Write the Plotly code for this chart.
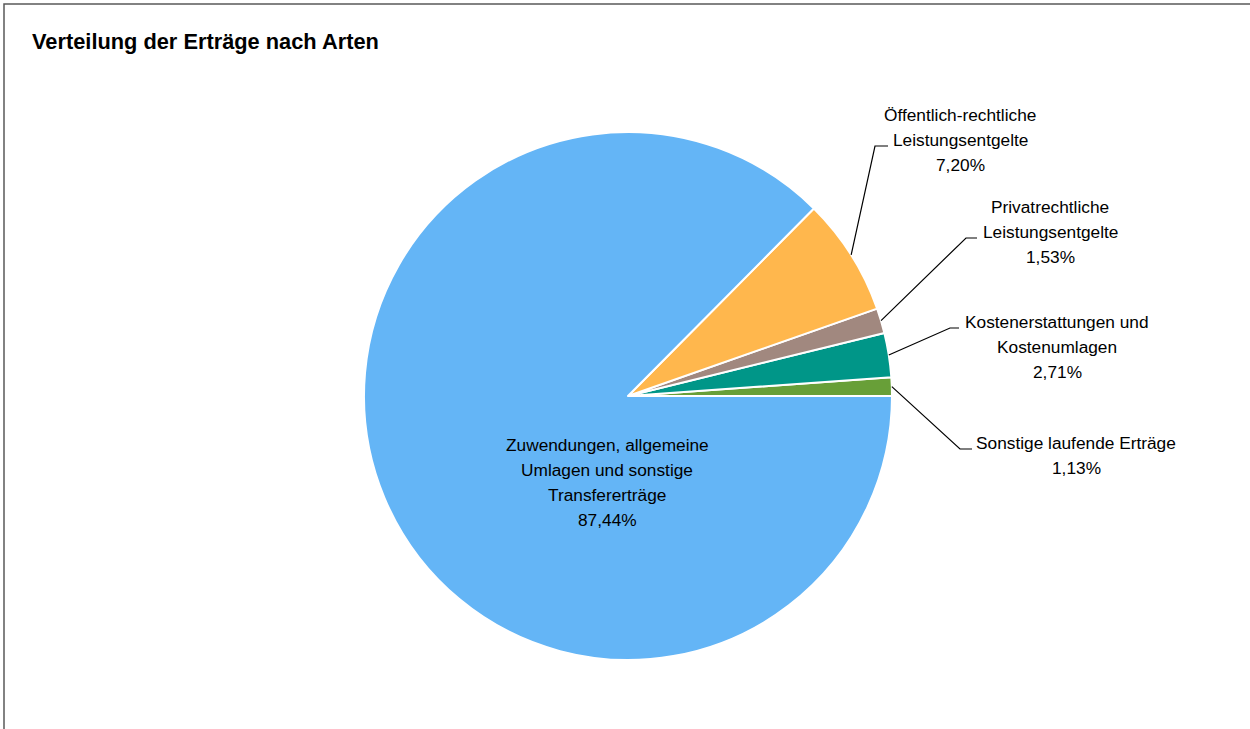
import math
import plotly.graph_objects as go

# ---- data (pie order: counterclockwise from 3 o'clock) ----
categories = [
    "Sonstige laufende Erträge",
    "Kostenerstattungen und Kostenumlagen",
    "Privatrechtliche Leistungsentgelte",
    "Öffentlich-rechtliche Leistungsentgelte",
    "Zuwendungen, allgemeine Umlagen und sonstige Transfererträge",
]
shares = [1.13, 2.71, 1.53, 7.20, 87.44]
label_lines = [
    ["Sonstige laufende Erträge"],
    ["Kostenerstattungen und", "Kostenumlagen"],
    ["Privatrechtliche", "Leistungsentgelte"],
    ["Öffentlich-rechtliche", "Leistungsentgelte"],
    ["Zuwendungen, allgemeine", "Umlagen und sonstige", "Transfererträge"],
]
colors = ["#689F38", "#009688", "#A1887F", "#FFB74D", "#64B5F6"]
title_text = "Verteilung der Erträge nach Arten"

# ---- layout / style ----
W, H = 1250, 729
CX, CY, R = 628, 396, 264          # pie centre and radius in px
FONT = "Liberation Sans, Arial, sans-serif"
LBL_SIZE = 17.3
LINE_GAP = 25
# label placement (px): centre x, first line y, attach line index, leader elbow x, leader end x
label_place = [
    dict(cx=1076, y0=443, attach=0, elbow=960, end=972),
    dict(cx=1057, y0=322, attach=0, elbow=950, end=959),
    dict(cx=1050, y0=207, attach=1, elbow=966, end=977),
    dict(cx=960, y0=115, attach=1, elbow=875, end=888),
    dict(cx=607, y0=445, attach=None),
]


def px(x):
    return x / W


def py(y):
    return 1 - y / H


def fmt(v):
    return f"{v:.2f}".replace(".", ",") + "%"


total = sum(shares)
# plotly places the first counterclockwise slice ending at `rotation`,
# so shift by the first slice so it starts exactly at 3 o'clock
rotation = 90 - 360 * shares[0] / total

fig = go.Figure(
    go.Pie(
        labels=categories,
        values=shares,
        sort=False,
        direction="counterclockwise",
        rotation=rotation,
        marker=dict(colors=colors, line=dict(color="white", width=2)),
        textinfo="none",
        hoverinfo="label+percent",
        showlegend=False,
        domain=dict(x=[px(CX - R), px(CX + R)], y=[py(CY + R), py(CY - R)]),
    )
)

annotations = []
shapes = []
cum = 0.0
for i, v in enumerate(shares):
    mid = 2 * math.pi * (cum + v / 2) / total
    cum += v
    pl = label_place[i]
    lines = label_lines[i] + [fmt(v)]
    for k, t in enumerate(lines):
        annotations.append(
            dict(
                x=px(pl["cx"]), y=py(pl["y0"] + k * LINE_GAP),
                xref="paper", yref="paper",
                text=t, showarrow=False,
                xanchor="center", yanchor="middle",
                font=dict(family=FONT, size=LBL_SIZE, color="#000000"),
            )
        )
    if pl["attach"] is not None:
        ex = CX + R * math.cos(mid)
        ey = CY - R * math.sin(mid)
        ly = pl["y0"] + pl["attach"] * LINE_GAP + 6
        path = (
            f"M {px(ex)} {py(ey)} L {px(pl['elbow'])} {py(ly)} "
            f"L {px(pl['end'])} {py(ly)}"
        )
        shapes.append(
            dict(type="path", xref="paper", yref="paper", path=path,
                 line=dict(color="#000000", width=1.2))
        )

# outer chart border (cropped at right and bottom)
shapes.append(
    dict(type="rect", xref="paper", yref="paper",
         x0=px(4), y0=py(H + 20), x1=px(W + 20), y1=py(4),
         line=dict(color="#595959", width=1.5), fillcolor="rgba(0,0,0,0)")
)

annotations.append(
    dict(
        x=px(30), y=py(41), xref="paper", yref="paper",
        text=f"<b>{title_text}</b>", showarrow=False,
        xanchor="left", yanchor="middle",
        font=dict(family=FONT, size=21.8, color="#000000"),
    )
)

fig.update_layout(
    width=W, height=H,
    margin=dict(l=0, r=0, t=0, b=0),
    paper_bgcolor="white", plot_bgcolor="white",
    annotations=annotations, shapes=shapes,
)

fig.write_html("out.html", config={"displayModeBar": False},
               post_script="document.body.style.margin='0';")
